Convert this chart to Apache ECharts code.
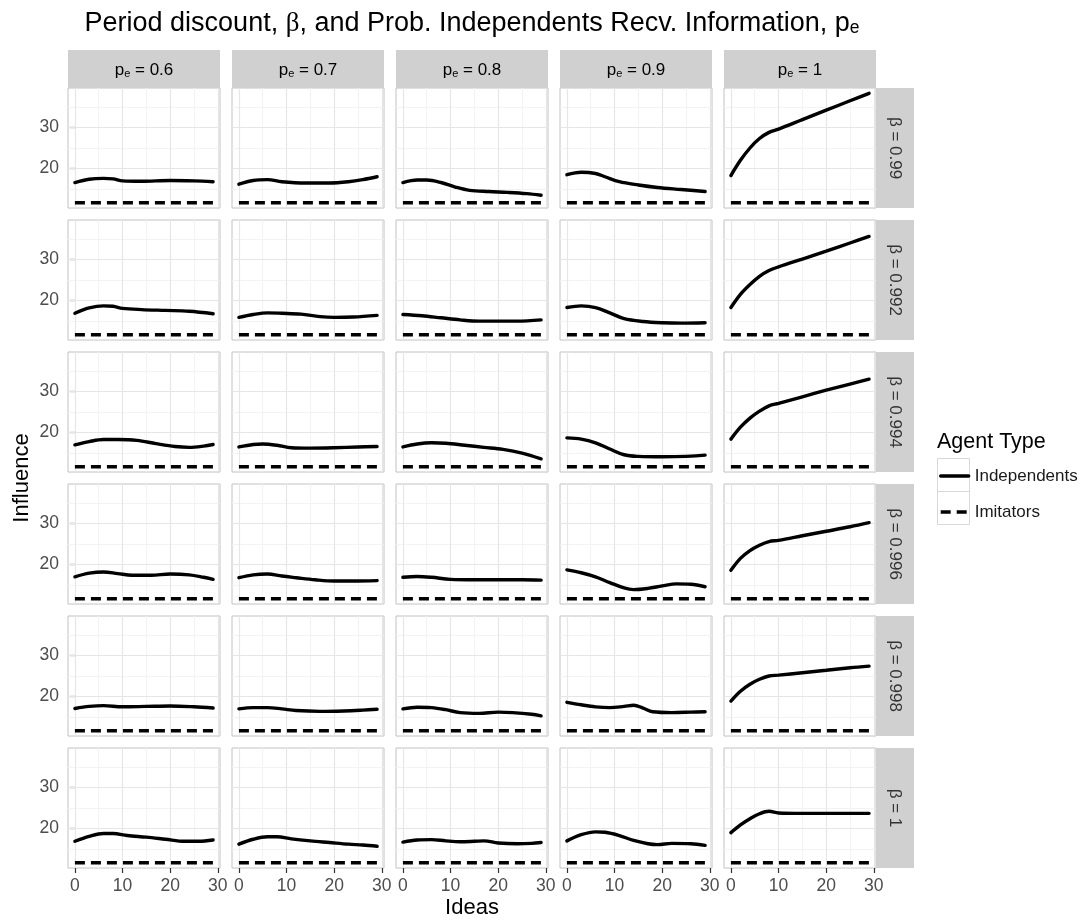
<!DOCTYPE html>
<html>
<head>
<meta charset="utf-8">
<script src="https://cdn.jsdelivr.net/npm/echarts@6.0.0/dist/echarts.min.js"></script>
<style>
html, body { margin: 0; padding: 0; background: #fff; }
#chart { width: 1086px; height: 922px; }
</style>
</head>
<body>
<div id="chart"></div>
<script>
// ---------------- data ----------------
const PE_LABELS = ['0.6', '0.7', '0.8', '0.9', '1'];
const BETA_LABELS = ['0.99', '0.992', '0.994', '0.996', '0.998', '1'];
const X_MAJOR = [0, 10, 20, 30];
const X_MINOR = [5, 15, 25];
const Y_MAJOR = [20, 30];
const Y_MINOR = [15, 25, 35];
const X_RANGE = [-1.45, 30.45];
const Y_RANGE = [10.4, 39.6];
const IMITATORS = [[0, 11.7], [29, 11.7]];

// Independents, one array per beta row; inside, one [idea, influence] list per p_e column
const indep_b0990 = [
  [[0,16.6],[3,17.4],[6,17.6],[8,17.5],[10,17.0],[14,16.9],[20,17.1],[25,17.0],[29,16.8]],
  [[0,16.2],[3,17.1],[6,17.3],[9,16.8],[14,16.5],[19,16.5],[23,16.8],[26,17.3],[29,18.0]],
  [[0,16.6],[3,17.2],[5,17.2],[8,16.6],[11,15.5],[14,14.7],[18,14.4],[22,14.2],[26,13.9],[29,13.5]],
  [[0,18.5],[3,19.1],[6,18.8],[8,18.0],[11,16.8],[15,16.0],[19,15.4],[24,14.9],[29,14.4]],
  [[0,18.3],[2,22.0],[4,25.0],[6,27.3],[8,28.8],[10,29.6],[15,31.9],[20,34.2],[25,36.5],[29,38.3]]
];
const indep_b0992 = [
  [[0,16.9],[3,18.2],[6,18.7],[8,18.6],[10,18.1],[14,17.8],[19,17.6],[24,17.4],[29,16.8]],
  [[0,15.9],[3,16.6],[6,17.0],[9,16.9],[13,16.7],[17,16.1],[20,15.9],[24,16.0],[29,16.4]],
  [[0,16.6],[4,16.3],[8,15.8],[12,15.3],[16,15.0],[20,15.0],[24,15.0],[29,15.3]],
  [[0,18.3],[3,18.7],[6,18.3],[9,17.0],[12,15.6],[16,14.9],[20,14.6],[24,14.5],[29,14.6]],
  [[0,18.3],[2,21.5],[4,23.9],[6,25.9],[8,27.3],[10,28.2],[15,30.1],[20,32.0],[25,34.0],[29,35.6]]
];
const indep_b0994 = [
  [[0,17.0],[3,17.8],[6,18.3],[9,18.3],[13,18.1],[17,17.3],[21,16.6],[24,16.4],[27,16.7],[29,17.1]],
  [[0,16.5],[3,17.1],[5,17.2],[8,16.9],[11,16.3],[15,16.2],[20,16.3],[25,16.5],[29,16.6]],
  [[0,16.5],[3,17.2],[6,17.5],[9,17.4],[13,16.9],[17,16.4],[21,15.9],[25,15.0],[29,13.6]],
  [[0,18.7],[3,18.4],[6,17.5],[9,16.0],[12,14.6],[15,14.2],[20,14.1],[25,14.2],[29,14.5]],
  [[0,18.4],[2,21.3],[4,23.5],[6,25.2],[8,26.5],[10,27.1],[15,28.7],[20,30.3],[25,31.8],[29,33.0]]
];
const indep_b0996 = [
  [[0,17.0],[3,17.9],[6,18.2],[9,17.8],[12,17.4],[16,17.4],[20,17.7],[24,17.5],[27,16.9],[29,16.4]],
  [[0,16.8],[3,17.5],[6,17.7],[9,17.2],[12,16.8],[16,16.3],[20,16.0],[24,16.0],[29,16.1]],
  [[0,16.9],[3,17.1],[6,16.9],[10,16.4],[15,16.3],[20,16.3],[25,16.3],[29,16.2]],
  [[0,18.7],[3,18.0],[6,17.0],[9,15.6],[12,14.3],[14,13.9],[17,14.2],[20,14.8],[23,15.3],[26,15.2],[29,14.6]],
  [[0,18.6],[2,21.5],[4,23.4],[6,24.7],[8,25.6],[10,25.9],[15,27.0],[20,28.1],[25,29.2],[29,30.2]]
];
const indep_b0998 = [
  [[0,17.1],[3,17.6],[6,17.8],[10,17.5],[15,17.6],[20,17.7],[25,17.5],[29,17.2]],
  [[0,17.0],[3,17.3],[6,17.3],[9,17.0],[12,16.6],[17,16.4],[22,16.5],[26,16.7],[29,16.9]],
  [[0,17.0],[3,17.4],[6,17.3],[9,16.8],[12,16.1],[16,15.9],[20,16.2],[23,16.1],[27,15.7],[29,15.3]],
  [[0,18.6],[3,18.0],[6,17.5],[9,17.3],[12,17.6],[14,17.9],[16,17.2],[18,16.3],[22,16.1],[26,16.2],[29,16.3]],
  [[0,18.9],[2,21.3],[4,23.0],[6,24.2],[8,25.0],[10,25.2],[15,25.8],[20,26.4],[25,27.0],[29,27.4]]
];
const indep_b1000 = [
  [[0,16.9],[3,18.1],[6,18.8],[8,18.8],[11,18.3],[15,17.9],[19,17.4],[23,16.9],[26,16.9],[29,17.2]],
  [[0,16.2],[3,17.4],[6,18.0],[8,18.0],[11,17.5],[15,17.0],[19,16.6],[23,16.2],[26,16.0],[29,15.7]],
  [[0,16.7],[3,17.2],[6,17.3],[9,17.0],[12,16.8],[15,16.9],[17,17.0],[20,16.5],[24,16.3],[27,16.4],[29,16.6]],
  [[0,17.0],[3,18.5],[6,19.2],[8,19.1],[11,18.3],[14,17.1],[17,16.3],[19,16.1],[22,16.4],[26,16.3],[29,15.9]],
  [[0,19.0],[2,20.9],[4,22.4],[6,23.6],[8,24.2],[10,23.8],[15,23.7],[20,23.7],[25,23.7],[29,23.7]]
];
const ROWS = [indep_b0990, indep_b0992, indep_b0994, indep_b0996, indep_b0998, indep_b1000];

// ---------------- layout / style ----------------
const FONT = '"Liberation Sans", Arial, Helvetica, sans-serif';
const L = { left: 68, top: 88, pw: 152, ph: 120, gap: 12, strip: 38 };
const STRIP_FILL = '#D0D0D0';
const BORDER = '#C2C2C2';
const GRID_MAJOR = '#E6E6E6';
const GRID_MINOR = '#F3F3F3';
const TICK_TEXT = '#4D4D4D';
const TICK_FS = 17.5;

const grid = [], xAxis = [], yAxis = [], series = [], graphic = [];
const nR = ROWS.length, nC = PE_LABELS.length;

function gridLineData() {
  const d = [];
  X_MINOR.forEach(v => d.push({ xAxis: v, lineStyle: { color: GRID_MINOR, width: 1, type: 'solid' } }));
  Y_MINOR.forEach(v => d.push({ yAxis: v, lineStyle: { color: GRID_MINOR, width: 1, type: 'solid' } }));
  X_MAJOR.forEach(v => d.push({ xAxis: v, lineStyle: { color: GRID_MAJOR, width: 1.2, type: 'solid' } }));
  Y_MAJOR.forEach(v => d.push({ yAxis: v, lineStyle: { color: GRID_MAJOR, width: 1.2, type: 'solid' } }));
  return d;
}

ROWS.forEach((row, r) => row.forEach((pts, c) => {
  const i = r * nC + c;
  const gl = L.left + c * (L.pw + L.gap);
  const gt = L.top + r * (L.ph + L.gap);
  grid.push({ left: gl, top: gt, width: L.pw, height: L.ph, show: true,
    backgroundColor: '#fff', borderColor: BORDER, borderWidth: 1, containLabel: false });
  xAxis.push({
    gridIndex: i, type: 'value', min: X_RANGE[0], max: X_RANGE[1],
    axisLine: { show: false }, splitLine: { show: false },
    axisTick: { show: r === nR - 1, customValues: X_MAJOR, length: 5, lineStyle: { color: '#333', width: 1.2 } },
    axisLabel: { show: r === nR - 1, customValues: X_MAJOR, margin: 9, color: TICK_TEXT, fontSize: TICK_FS, fontFamily: FONT }
  });
  yAxis.push({
    gridIndex: i, type: 'value', min: Y_RANGE[0], max: Y_RANGE[1],
    axisLine: { show: false }, splitLine: { show: false },
    axisTick: { show: c === 0, customValues: Y_MAJOR, length: 5, lineStyle: { color: '#333', width: 1.2 } },
    axisLabel: { show: c === 0, customValues: Y_MAJOR, margin: 9, color: TICK_TEXT, fontSize: TICK_FS, fontFamily: FONT }
  });
  series.push({
    type: 'line', xAxisIndex: i, yAxisIndex: i, data: IMITATORS, symbol: 'none',
    lineStyle: { opacity: 0 }, silent: true, z: 1, zlevel: 0,
    markLine: { silent: true, z: 1, zlevel: 0, symbol: ['none', 'none'], label: { show: false },
      animation: false, emphasis: { disabled: true }, data: gridLineData() }
  });
  series.push({
    name: 'Imitators', type: 'line', xAxisIndex: i, yAxisIndex: i, data: IMITATORS,
    symbol: 'none', itemStyle: { color: '#000' },
    lineStyle: { color: '#000', width: 3.5, type: [10, 6] }, z: 6
  });
  series.push({
    name: 'Independents', type: 'line', xAxisIndex: i, yAxisIndex: i, data: pts,
    symbol: 'none', smooth: 0.35, itemStyle: { color: '#000' },
    lineStyle: { color: '#000', width: 3.4, cap: 'round' }, z: 7
  });
}));

// strips
const stripRich = {
  a: { fontSize: 17, fontFamily: FONT, color: '#333', lineHeight: 20, verticalAlign: 'bottom' },
  b: { fontSize: 11, fontFamily: FONT, color: '#333', lineHeight: 8, verticalAlign: 'bottom' }
};
PE_LABELS.forEach((lab, c) => {
  const gl = L.left + c * (L.pw + L.gap);
  graphic.push({ type: 'rect', shape: { x: gl, y: L.top - L.strip, width: L.pw, height: L.strip }, style: { fill: STRIP_FILL }, silent: true });
  graphic.push({ type: 'text', x: gl + L.pw / 2, y: L.top - L.strip / 2, silent: true,
    style: { text: '{a|p}{b|e}{a| = ' + lab + '}', rich: stripRich, align: 'center', verticalAlign: 'middle' } });
});
const stripLeft = L.left + nC * (L.pw + L.gap) - L.gap;
BETA_LABELS.forEach((lab, r) => {
  const gt = L.top + r * (L.ph + L.gap);
  graphic.push({ type: 'rect', shape: { x: stripLeft, y: gt, width: L.strip, height: L.ph }, style: { fill: STRIP_FILL }, silent: true });
  graphic.push({ type: 'text', x: stripLeft + L.strip / 2, y: gt + L.ph / 2, rotation: -Math.PI / 2, silent: true,
    style: { text: 'β = ' + lab, fontSize: 17, fontFamily: FONT, fill: '#333', align: 'center', verticalAlign: 'middle' } });
});

const panelsRight = stripLeft;
const panelsBottom = L.top + nR * (L.ph + L.gap) - L.gap;
const panelsMidX = (L.left + panelsRight) / 2;
const panelsMidY = (L.top + panelsBottom) / 2;

// title
graphic.push({ type: 'text', x: panelsMidX, y: 21, silent: true,
  style: {
    text: '{t|Period discount, }{g|β}{t|, and Prob. Independents Recv. Information, p}{s|e}',
    align: 'center', verticalAlign: 'middle',
    rich: {
      t: { fontSize: 27, fontFamily: FONT, color: '#000', lineHeight: 32, verticalAlign: 'bottom' },
      g: { fontSize: 27, fontFamily: '"Liberation Serif", "DejaVu Serif", serif', color: '#000', lineHeight: 32, verticalAlign: 'bottom' },
      s: { fontSize: 17.5, fontFamily: FONT, color: '#000', lineHeight: 14, verticalAlign: 'bottom' }
    }
  } });
// axis titles
graphic.push({ type: 'text', x: panelsMidX, y: 908, silent: true,
  style: { text: 'Ideas', fontSize: 22, fontFamily: FONT, fill: '#000', align: 'center', verticalAlign: 'middle' } });
graphic.push({ type: 'text', x: 22, y: panelsMidY, rotation: Math.PI / 2, silent: true,
  style: { text: 'Influence', fontSize: 22, fontFamily: FONT, fill: '#000', align: 'center', verticalAlign: 'middle' } });
// legend title and key boxes
const LEG = { left: 937, top: 458, key: 32, row: 33 };
graphic.push({ type: 'text', x: LEG.left, y: 442, silent: true,
  style: { text: 'Agent Type', fontSize: 21.5, fontFamily: FONT, fill: '#000', align: 'left', verticalAlign: 'middle' } });
[0, 1].forEach(k => graphic.push({ type: 'rect', z: 0, silent: true,
  shape: { x: LEG.left + 0.5, y: LEG.top + k * LEG.row + 0.5, width: LEG.key, height: LEG.row },
  style: { fill: '#fff', stroke: '#D8D8D8', lineWidth: 1 } }));

const option = {
  animation: false,
  backgroundColor: '#fff',
  grid, xAxis, yAxis, series, graphic,
  legend: {
    data: ['Independents', 'Imitators'], orient: 'vertical',
    left: LEG.left + 2, top: LEG.top + (LEG.row - 14) / 2,
    itemWidth: LEG.key - 4, itemHeight: 14, itemGap: LEG.row - 14,
    padding: 0, selectedMode: false, z: 10,
    itemStyle: { opacity: 0 },
    lineStyle: { width: 3.4 },
    textStyle: { fontSize: 17, fontFamily: FONT, color: '#1A1A1A', padding: [0, 0, 0, 1] }
  }
};
const chart = echarts.init(document.getElementById('chart'));
chart.setOption(option);
</script>
</body>
</html>
